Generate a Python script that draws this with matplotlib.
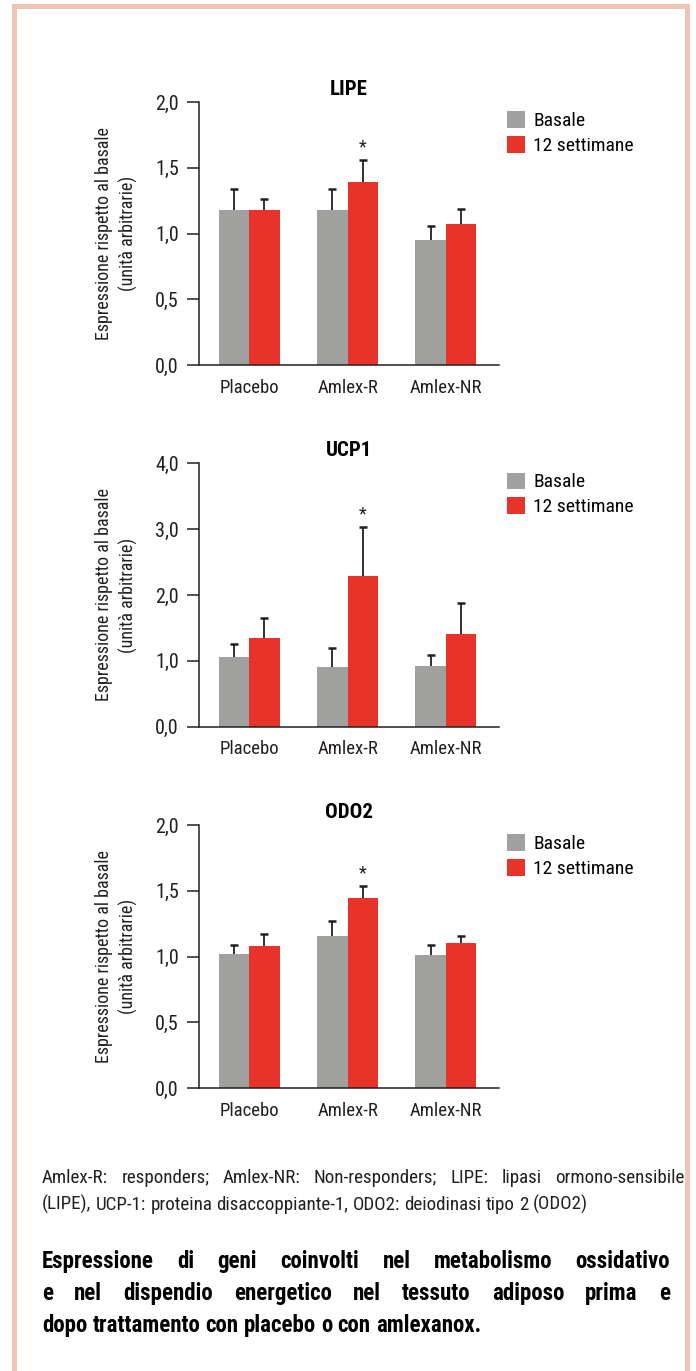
import numpy as np
import matplotlib
matplotlib.use("Agg")
import matplotlib.pyplot as plt
from matplotlib.patches import Rectangle

plt.rcParams['font.family'] = ['Roboto Condensed', 'Roboto', 'DejaVu Sans']

# dati: media e errore (solo barra superiore) per ciascun gene
gruppi = ['Placebo', 'Amlex-R', 'Amlex-NR']
serie = ['Basale', '12 settimane']

lipe_basale = [1.18, 1.18, 0.95]
lipe_basale_err = [0.16, 0.16, 0.11]
lipe_12 = [1.18, 1.39, 1.07]
lipe_12_err = [0.08, 0.17, 0.12]

ucp1_basale = [1.06, 0.91, 0.92]
ucp1_basale_err = [0.20, 0.29, 0.17]
ucp1_12 = [1.35, 2.29, 1.41]
ucp1_12_err = [0.30, 0.74, 0.47]

odo2_basale = [1.02, 1.16, 1.01]
odo2_basale_err = [0.07, 0.11, 0.08]
odo2_12 = [1.08, 1.445, 1.10]
odo2_12_err = [0.09, 0.095, 0.06]

titoli = ['LIPE', 'UCP1', 'ODO2']
ymax = [2.0, 4.0, 2.0]
yticks = [[0, 0.5, 1.0, 1.5, 2.0], [0, 1, 2, 3, 4], [0, 0.5, 1.0, 1.5, 2.0]]
significativo = [1, 1, 1]   # indice del gruppo con asterisco

grigio = '#A0A09E'
rosso = '#E8332A'
scuro = '#231F20'

W, H = 696, 1371
fig = plt.figure(figsize=(W / 100, H / 100), dpi=100)

# cornice rosa
fig.patches.append(Rectangle((13.5 / W, -0.01), 673 / W, 1 + 0.01 - 5.5 / H,
                             transform=fig.transFigure, fill=False,
                             edgecolor='#F0C4B2', linewidth=3.6))

dati = [(lipe_basale, lipe_basale_err, lipe_12, lipe_12_err),
        (ucp1_basale, ucp1_basale_err, ucp1_12, ucp1_12_err),
        (odo2_basale, odo2_basale_err, odo2_12, odo2_12_err)]
top_px = [102, 463.3, 825]
alt_px = 263.3

x = np.arange(len(gruppi))
w = 0.31


def errore(ax, xs, media, err):
    # solo la meta superiore della barra d'errore, con cappuccio
    cima = np.array(media) + np.array(err)
    ax.vlines(xs, media, cima, color=scuro, linewidth=1.3, zorder=1)
    ax.plot(xs, cima, ls='none', marker='_', ms=6, mew=1.8, color=scuro, zorder=1)


for k in range(3):
    b, be, d, de = dati[k]
    ax = fig.add_axes([199 / W, 1 - (top_px[k] + alt_px) / H, 300 / W, alt_px / H])
    ax.bar(x - w / 2, b, w, color=grigio, label=serie[0], zorder=2)
    ax.bar(x + w / 2, d, w, color=rosso, label=serie[1], zorder=2)
    errore(ax, x - w / 2, b, be)
    errore(ax, x + w / 2, d, de)
    i = significativo[k]
    ax.annotate('*', xy=(i + w / 2, d[i] + de[i]), xytext=(0, 2.5),
                textcoords='offset points', ha='center', va='bottom',
                fontsize=13, color=scuro)

    ax.set_xlim(-0.51, 2.54)
    ax.set_ylim(0, ymax[k])
    ax.set_yticks(yticks[k])
    ax.set_yticklabels([f'{v:.1f}'.replace('.', ',') for v in yticks[k]])
    ax.set_xticks(x)
    ax.set_xticklabels(gruppi)
    ax.tick_params(axis='y', length=8.5, width=1.1, pad=6, labelsize=14.5,
                   colors=scuro)
    ax.tick_params(axis='x', length=0, pad=10, labelsize=13.5, colors=scuro)
    for s in ['top', 'right']:
        ax.spines[s].set_visible(False)
    for s in ['left', 'bottom']:
        ax.spines[s].set_linewidth(1.1)
        ax.spines[s].set_color(scuro)
    ax.set_title(titoli[k], fontsize=15, fontweight='bold', pad=5, color='black')
    ax.set_ylabel('Espressione rispetto al basale\n(unità arbitrarie)',
                  fontsize=13, linespacing=1.4, labelpad=12, color=scuro)
    ax.legend(loc='upper left', bbox_to_anchor=(1.025, 0.965), frameon=False,
              fontsize=14, handlelength=0.93, handleheight=0.93,
              handletextpad=0.45, labelspacing=0.3, borderaxespad=0,
              borderpad=0)

# testo sotto i grafici, giustificato come in tipografia
r = fig.canvas.get_renderer()


def riga(y, testo, x0=42, x1=684, giustifica=True, **kw):
    parole = testo.split(' ')
    oggetti = [fig.text(0, 1 - y / H, p, va='baseline', **kw) for p in parole]
    larg = [o.get_window_extent(r).width for o in oggetti]
    if giustifica:
        spazio = (x1 - x0 - sum(larg)) / (len(parole) - 1)
    else:
        a = fig.text(0, 0, 'a a', **kw)
        bb = fig.text(0, 0, 'aa', **kw)
        spazio = a.get_window_extent(r).width - bb.get_window_extent(r).width
        a.remove()
        bb.remove()
    pos = x0
    for o, l in zip(oggetti, larg):
        o.set_x(pos / W)
        pos += l + spazio


riga(1183, 'Amlex-R: responders; Amlex-NR: Non-responders; LIPE: lipasi ormono-sensibile',
     fontsize=13.7, color=scuro)
riga(1210, '(LIPE), UCP-1: proteina disaccoppiante-1, ODO2: deiodinasi tipo 2 (ODO2)',
     giustifica=False, fontsize=13.7, color=scuro)
riga(1268, 'Espressione di geni coinvolti nel metabolismo ossidativo',
     x1=670, fontsize=16.5, fontweight='bold', color='black')
riga(1300, 'e nel dispendio energetico nel tessuto adiposo prima e',
     x1=670, fontsize=16.5, fontweight='bold', color='black')
riga(1332, 'dopo trattamento con placebo o con amlexanox.',
     giustifica=False, fontsize=16.5, fontweight='bold', color='black')

fig.savefig('out.png', dpi=100, facecolor='white')
